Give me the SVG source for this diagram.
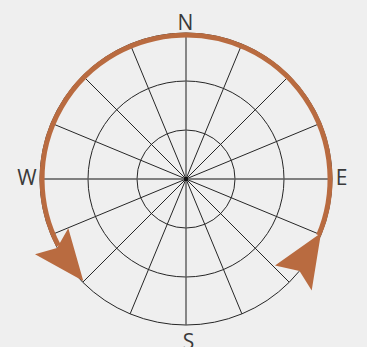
<svg xmlns="http://www.w3.org/2000/svg" width="367" height="347" viewBox="0 0 367 347">
<style>
.ring{fill:none;stroke:#262626;stroke-width:1}
.spoke{stroke:#262626;stroke-width:1}
.axis{stroke:#5a5a5a;stroke-width:1.4}
.arc{fill:none;stroke:#B96B40;stroke-width:5}
.head{fill:#B96B40}
.lbl{font-family:"Open Sans","Noto Sans","Liberation Sans",sans-serif;font-size:21px;fill:#3a3a3a;text-anchor:middle}
</style>
<rect width="367" height="347" fill="#efefef"/>
<g id="grid">
<circle class="ring" cx="186" cy="179" r="49"/>
<circle class="ring" cx="186" cy="179" r="98"/>
<circle class="ring" cx="186" cy="179" r="146"/>
<g id="spokes">
<line class="spoke" x1="186" y1="179" x2="241.9" y2="44.1"/>
<line class="spoke" x1="186" y1="179" x2="289.2" y2="75.8"/>
<line class="spoke" x1="186" y1="179" x2="320.9" y2="123.1"/>
<line class="spoke" x1="186" y1="179" x2="320.9" y2="234.9"/>
<line class="spoke" x1="186" y1="179" x2="289.2" y2="282.2"/>
<line class="spoke" x1="186" y1="179" x2="241.9" y2="313.9"/>
<line class="spoke" x1="186" y1="179" x2="130.1" y2="313.9"/>
<line class="spoke" x1="186" y1="179" x2="82.8" y2="282.2"/>
<line class="spoke" x1="186" y1="179" x2="51.1" y2="234.9"/>
<line class="spoke" x1="186" y1="179" x2="51.1" y2="123.1"/>
<line class="spoke" x1="186" y1="179" x2="82.8" y2="75.8"/>
<line class="spoke" x1="186" y1="179" x2="130.1" y2="44.1"/>
<line class="axis" x1="186" y1="33" x2="186" y2="325"/>
<line class="axis" x1="40" y1="179" x2="332" y2="179"/>
</g>
<circle cx="186" cy="179" r="2.2" fill="#111"/>
</g>
<g id="connectors">
<path class="arc" d="M58.4,245.7 A144,144 0 1 1 318.6,235.3"/>
<polygon class="head" points="35,254.3 57,248 68.3,228.3 83.3,281"/>
<polygon class="head" points="321,233 275,265.5 299.5,271 311.7,290.5"/>
</g>
<g id="labels">
<text class="lbl" x="185.5" y="29.5">N</text>
<text class="lbl" x="27" y="184.5">W</text>
<text class="lbl" x="341.5" y="184.5">E</text>
<text class="lbl" x="188.5" y="348.5">S</text>
</g>
</svg>
